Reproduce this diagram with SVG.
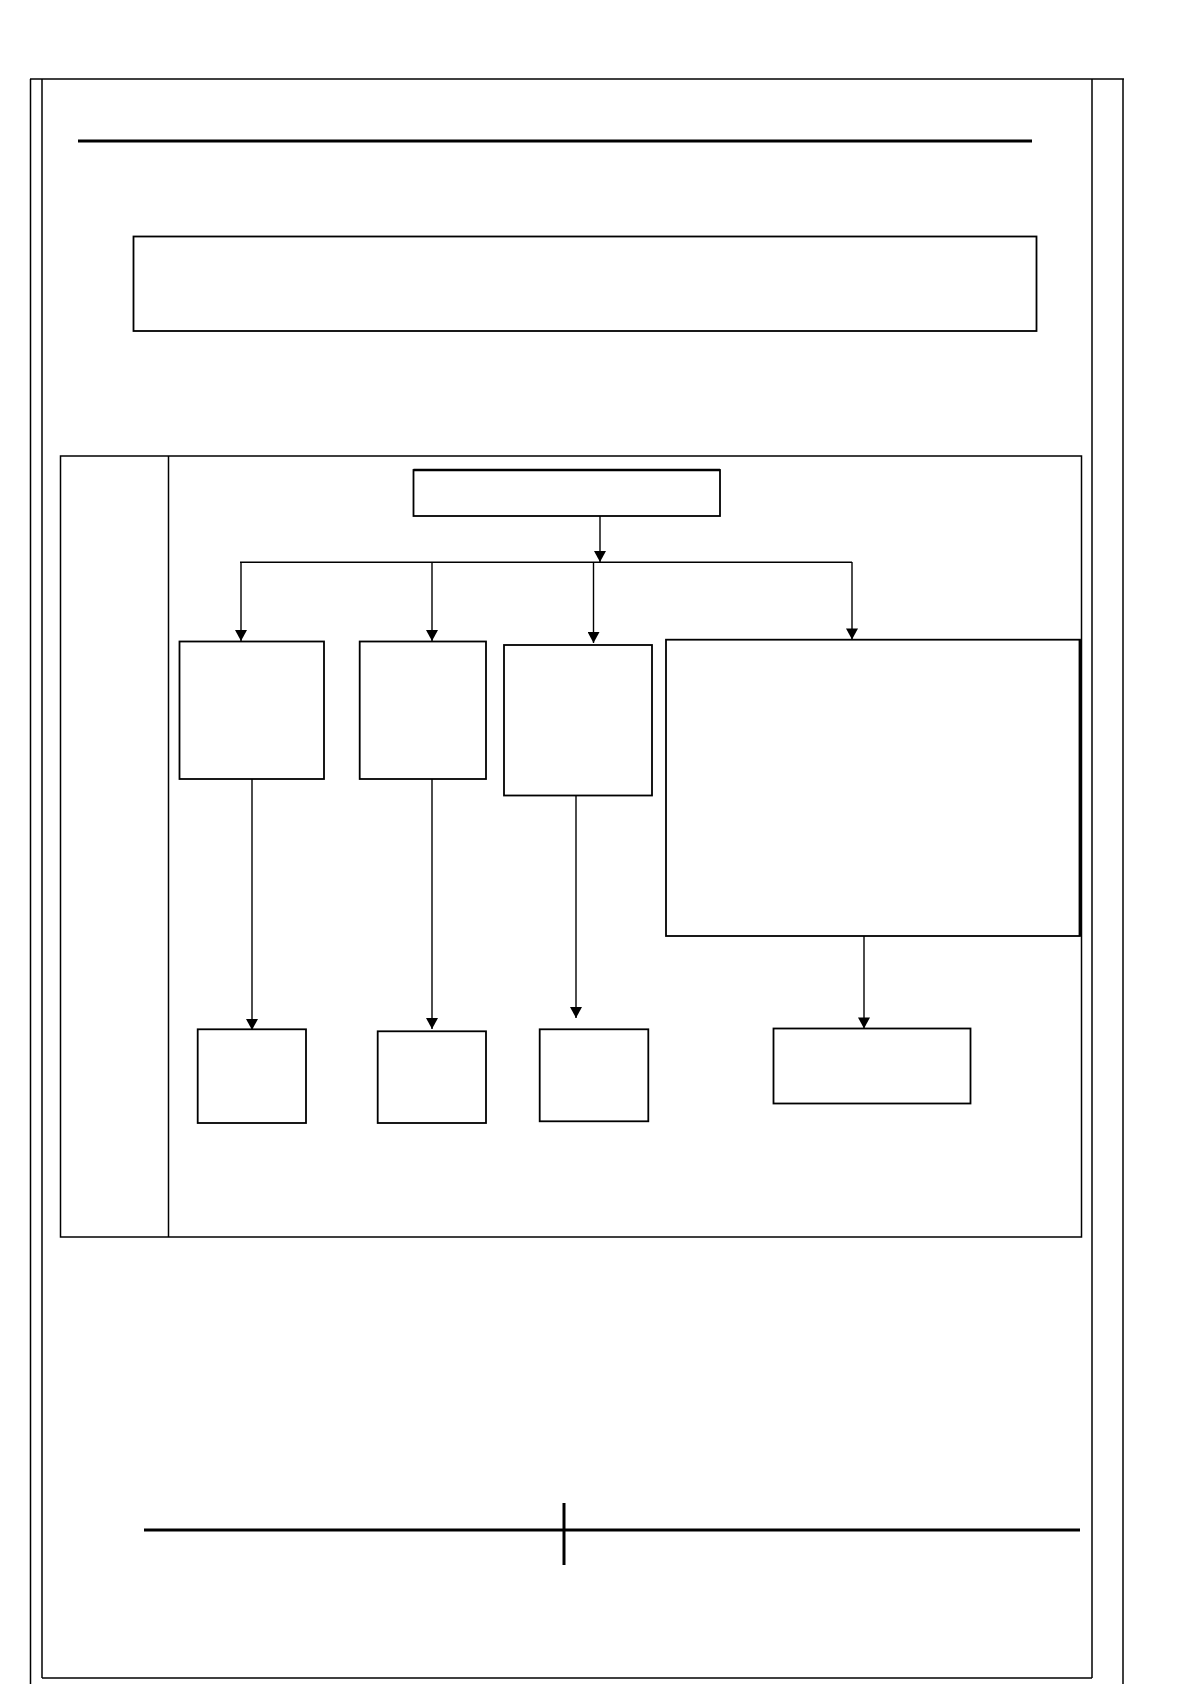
<svg xmlns="http://www.w3.org/2000/svg" width="1190" height="1684" viewBox="0 0 1190 1684">
<defs>
<style>
.frame{fill:none;stroke:#000;stroke-width:1.5}
.box{fill:#fff;stroke:#000;stroke-width:1.8}
.conn{fill:none;stroke:#000;stroke-width:1.4}
.rule{stroke:#000;stroke-width:3}
</style>
<marker id="arrd" markerWidth="13" markerHeight="12" refX="12" refY="6.5" orient="auto" markerUnits="userSpaceOnUse" viewBox="0 0 12 13">
<path d="M0,0 L12,6.5 L0,13 Z" fill="#000"/>
</marker>
</defs>
<rect width="1190" height="1684" fill="#fff"/>
<g id="page-frame">
<line x1="30.5" y1="79" x2="30.5" y2="1684" class="frame" stroke-width="1.4"/>
<line x1="1123" y1="79" x2="1123" y2="1684" class="frame" stroke-width="1.4"/>
<line x1="30" y1="79" x2="1124" y2="79" class="frame" stroke-width="2.2"/>
<line x1="42" y1="79" x2="42" y2="1678" class="frame" stroke-width="1.8"/>
<line x1="1092" y1="79" x2="1092" y2="1678" class="frame" stroke-width="1.8"/>
<line x1="42" y1="1678" x2="1092" y2="1678" class="frame" stroke-width="1.8"/>
<line x1="78" y1="141" x2="1032" y2="141" class="rule" stroke-width="2.8"/>
<line x1="144" y1="1530" x2="1080" y2="1530" class="rule"/>
<line x1="564" y1="1503" x2="564" y2="1565" class="rule"/>
</g>
<g id="title-box"><rect x="133.5" y="236.5" width="903" height="94.5" class="box"/></g>
<g id="panel">
<rect x="60.5" y="456" width="1021" height="781" class="frame" stroke-width="1.3"/>
<line x1="168.5" y1="456" x2="168.5" y2="1237" class="frame" stroke-width="1.3"/>
</g>
<g id="connectors">
<line x1="600" y1="516" x2="600" y2="562" class="conn" stroke-width="1.8" marker-end="url(#arrd)"/>
<line x1="240" y1="562.3" x2="852" y2="562.3" class="conn"/>
<line x1="241" y1="562" x2="241" y2="641" class="conn" marker-end="url(#arrd)"/>
<line x1="432" y1="562" x2="432" y2="641" class="conn" marker-end="url(#arrd)"/>
<line x1="593.5" y1="562" x2="593.5" y2="643" class="conn" marker-end="url(#arrd)"/>
<line x1="852" y1="562" x2="852" y2="639.5" class="conn" marker-end="url(#arrd)"/>
<line x1="252" y1="779" x2="252" y2="1030" class="conn" marker-end="url(#arrd)"/>
<line x1="432" y1="779" x2="432" y2="1029" class="conn" marker-end="url(#arrd)"/>
<line x1="576" y1="795" x2="576" y2="1018" class="conn" marker-end="url(#arrd)"/>
<line x1="864" y1="936" x2="864" y2="1028.5" class="conn" marker-end="url(#arrd)"/>
</g>
<g id="node-top"><rect x="413.5" y="470" width="306.5" height="46" class="box"/><line x1="413.5" y1="470" x2="720" y2="470" stroke="#000" stroke-width="2.5"/></g>
<g id="node-a"><rect x="179.5" y="641.5" width="144.5" height="137.5" class="box"/></g>
<g id="node-b"><rect x="359.7" y="641.5" width="126.3" height="137.5" class="box"/></g>
<g id="node-c"><rect x="504" y="645" width="148" height="150.5" class="box" stroke-width="1.6"/></g>
<g id="node-d"><rect x="666" y="639.7" width="414" height="296.3" class="box" stroke-width="2"/><line x1="1080" y1="639.7" x2="1080" y2="936" stroke="#000" stroke-width="2.8"/></g>
<g id="node-e"><rect x="197.7" y="1029.3" width="108.3" height="93.7" class="box" stroke-width="2"/></g>
<g id="node-f"><rect x="377.7" y="1031.3" width="108.3" height="91.7" class="box" stroke-width="2"/></g>
<g id="node-g"><rect x="539.7" y="1029.3" width="108.6" height="92" class="box"/></g>
<g id="node-h"><rect x="773.5" y="1028.5" width="197" height="75" class="box"/></g>
</svg>
